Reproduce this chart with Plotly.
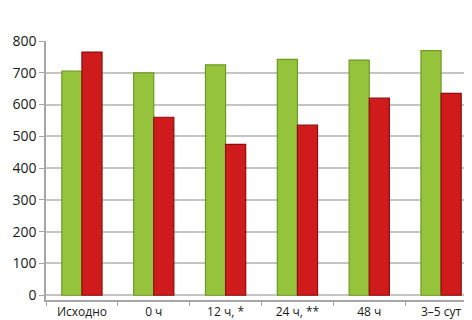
import plotly.graph_objects as go

categories = ["Исходно", "0 ч", "12 ч, *", "24 ч, **", "48 ч", "3–5 сут"]
green_values = [705, 700, 725, 742, 740, 770]
red_values = [765, 560, 475, 535, 620, 635]
y_ticks = [0, 100, 200, 300, 400, 500, 600, 700, 800]

fig = go.Figure()
fig.add_trace(go.Bar(x=categories, y=green_values, marker=dict(color="#95c43c", line=dict(color="#6f9a22", width=1.2))))
fig.add_trace(go.Bar(x=categories, y=red_values, marker=dict(color="#cf1b1b", line=dict(color="#8e0d0d", width=1.2))))

fig.update_layout(
    width=472, height=320,
    margin=dict(l=38, r=3, t=33, b=28),
    paper_bgcolor="white", plot_bgcolor="white",
    showlegend=False,
    barmode="group", bargap=0.44, bargroupgap=0.0,
    font=dict(family="Open Sans", size=13, color="#1a1a1a"),
)
fig.update_xaxes(
    showline=True, linecolor="#a6a6a6", linewidth=1.5,
    ticks="outside", tickson="boundaries", ticklen=4, tickcolor="#a6a6a6",
    showgrid=False, tickfont=dict(size=12), ticklabelstandoff=0,
)
fig.update_yaxes(
    range=[-15, 800], tickvals=y_ticks,
    showline=True, linecolor="#a6a6a6", linewidth=1.5,
    ticks="outside", ticklen=5, tickcolor="#a6a6a6",
    showgrid=True, gridcolor="#c4c4c4", gridwidth=1.5,
    zeroline=False, tickfont=dict(size=14),
)
fig.write_html("out.html")
